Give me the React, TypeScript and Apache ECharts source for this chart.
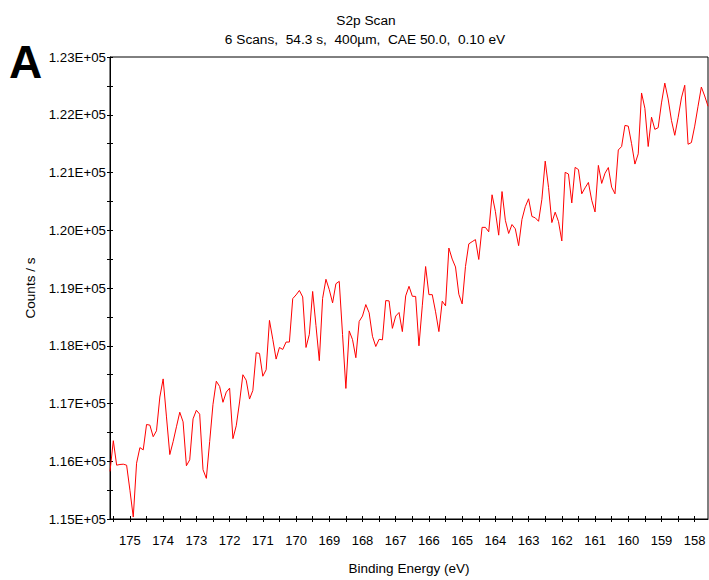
import React, { useEffect, useRef } from "react";
import * as echarts from "echarts";

const title = "S2p Scan";
const subtitle = "6 Scans,  54.3 s,  400µm,  CAE 50.0,  0.10 eV";
const panelLetter = "A";
const xName = "Binding Energy (eV)";
const yName = "Counts / s";

const startEnergy = 175.6;
const stepEnergy = 0.1;
const xMin = 157.6;
const xMax = 175.6;
const yMin = 115000;
const yMax = 123000;
const yStep = 500;

const xLabelValues = [158, 159, 160, 161, 162, 163, 164, 165, 166, 167, 168, 169, 170, 171, 172, 173, 174, 175];
const xTickValues = [158, 158.5, 159, 159.5, 160, 160.5, 161, 161.5, 162, 162.5, 163, 163.5, 164, 164.5, 165, 165.5, 166, 166.5, 167, 167.5, 168, 168.5, 169, 169.5, 170, 170.5, 171, 171.5, 172, 172.5, 173, 173.5, 174, 174.5, 175, 175.5];

const counts = [
  115824, 116356, 115932, 115944, 115949, 115932, 115498, 115034, 115966, 116236,
  116197, 116636, 116626, 116425, 116528, 117112, 117426, 116768, 116116, 116339,
  116597, 116849, 116682, 115922, 116025, 116734, 116883, 116815, 115853, 115704,
  116339, 116986, 117386, 117295, 117021, 117197, 117266, 116391, 116614, 117026,
  117498, 117403, 117077, 117227, 117879, 117867, 117472, 117584, 118439, 118112,
  117769, 117970, 117936, 118064, 118064, 118816, 118880, 118957, 118845, 117970,
  118198, 118940, 118348, 117742, 118820, 119151, 118971, 118742, 119074, 119115,
  118193, 117261, 118257, 118107, 117793, 118421, 118514, 118713, 118571, 118164,
  117987, 118112, 118102, 118782, 118777, 118301, 118514, 118576, 118245, 118863,
  119029, 118857, 118854, 117999, 118691, 119372, 118885, 118885, 118588, 118245,
  118772, 118691, 119692, 119501, 119364, 118892, 118725, 119372, 119764, 119802,
  119838, 119494, 120050, 120050, 119973, 120614, 120327, 119915, 120670, 120172,
  119944, 120099, 120025, 119733, 120188, 120408, 120545, 120239, 120215, 120155,
  120536, 121197, 120742, 120133, 120313, 120150, 119815, 121003, 120974, 120473,
  121089, 121051, 120631, 120734, 120828, 120519, 120317, 121123, 120811, 120988,
  121086, 120746, 120631, 121390, 121450, 121815, 121803, 121498, 121146, 121323,
  122377, 122111, 121450, 121958, 121747, 121776, 122205, 122548, 122274, 121901,
  121644, 121947, 122291, 122511, 121489, 121518, 121803, 122147, 122480, 122325,
  122147,
];

const energies = counts.map((_, i) => +(startEnergy - stepEnergy * i).toFixed(1));

const FONT = "Liberation Sans, Arial, Helvetica, sans-serif";

export default function App() {
  const ref = useRef<HTMLDivElement>(null);

  useEffect(() => {
    if (!ref.current) return;
    const chart = echarts.init(ref.current, undefined, { renderer: "svg" });
    const baseX = {
      type: "value" as const,
      min: xMin,
      max: xMax,
      inverse: true,
      position: "bottom" as const,
      splitLine: { show: false },
    };
    const baseY = {
      type: "value" as const,
      min: yMin,
      max: yMax,
      interval: yStep,
      position: "left" as const,
      splitLine: { show: false },
    };
    chart.setOption({
      animation: false,
      backgroundColor: "#fff",
      textStyle: { fontFamily: FONT },
      grid: {
        left: 110,
        top: 57,
        width: 598,
        height: 466,
        show: true,
        borderColor: "#000",
        borderWidth: 1,
        containLabel: false,
      },
      graphic: [
        {
          type: "text",
          x: 366,
          y: 20,
          style: { text: title, fill: "#000", font: `13.7px ${FONT}`, textAlign: "center", textVerticalAlign: "middle" },
        },
        {
          type: "text",
          x: 365,
          y: 39,
          style: { text: subtitle, fill: "#000", font: `13.7px ${FONT}`, textAlign: "center", textVerticalAlign: "middle" },
        },
        {
          type: "text",
          x: 9,
          y: 62,
          style: { text: panelLetter, fill: "#000", font: `bold 46px ${FONT}`, textAlign: "left", textVerticalAlign: "middle" },
        },
      ],
      xAxis: [
        {
          ...baseX,
          axisLine: { show: true, lineStyle: { color: "#000", width: 1 } },
          axisTick: { show: true, inside: false, length: 3, customValues: xTickValues, lineStyle: { color: "#000" } },
          axisLabel: { customValues: xLabelValues, color: "#000", fontSize: 13, margin: 15, fontFamily: FONT },
          name: xName,
          nameLocation: "middle",
          nameGap: 42,
          nameTextStyle: { color: "#000", fontSize: 13.5, fontFamily: FONT },
        },
        {
          ...baseX,
          axisLine: { show: false },
          axisTick: { show: true, inside: true, length: 3, customValues: xTickValues, lineStyle: { color: "#000" } },
          axisLabel: { show: false },
        },
      ],
      yAxis: [
        {
          ...baseY,
          axisLine: { show: true, lineStyle: { color: "#000", width: 1 } },
          axisTick: { show: true, inside: false, length: 3, lineStyle: { color: "#000" } },
          axisLabel: {
            color: "#000",
            fontSize: 13.3,
            margin: 4,
            fontFamily: FONT,
            formatter: (v: number) => (v % 1000 === 0 ? (v / 100000).toFixed(2) + "E+05" : ""),
          },
          name: yName,
          nameLocation: "middle",
          nameGap: 72,
          nameTextStyle: { color: "#000", fontSize: 13.5, fontFamily: FONT },
        },
        {
          ...baseY,
          axisLine: { show: false },
          axisTick: { show: true, inside: true, length: 3, lineStyle: { color: "#000" } },
          axisLabel: { show: false },
        },
      ],
      series: [
        {
          type: "line",
          xAxisIndex: 0,
          yAxisIndex: 0,
          showSymbol: false,
          symbol: "none",
          lineStyle: { color: "#ff0000", width: 1 },
          data: energies.map((e, i) => [e, counts[i]]),
        },
      ],
    });
    return () => chart.dispose();
  }, []);

  return <div ref={ref} style={{ position: "absolute", left: 0, top: 0, width: 709, height: 580 }} />;
}
